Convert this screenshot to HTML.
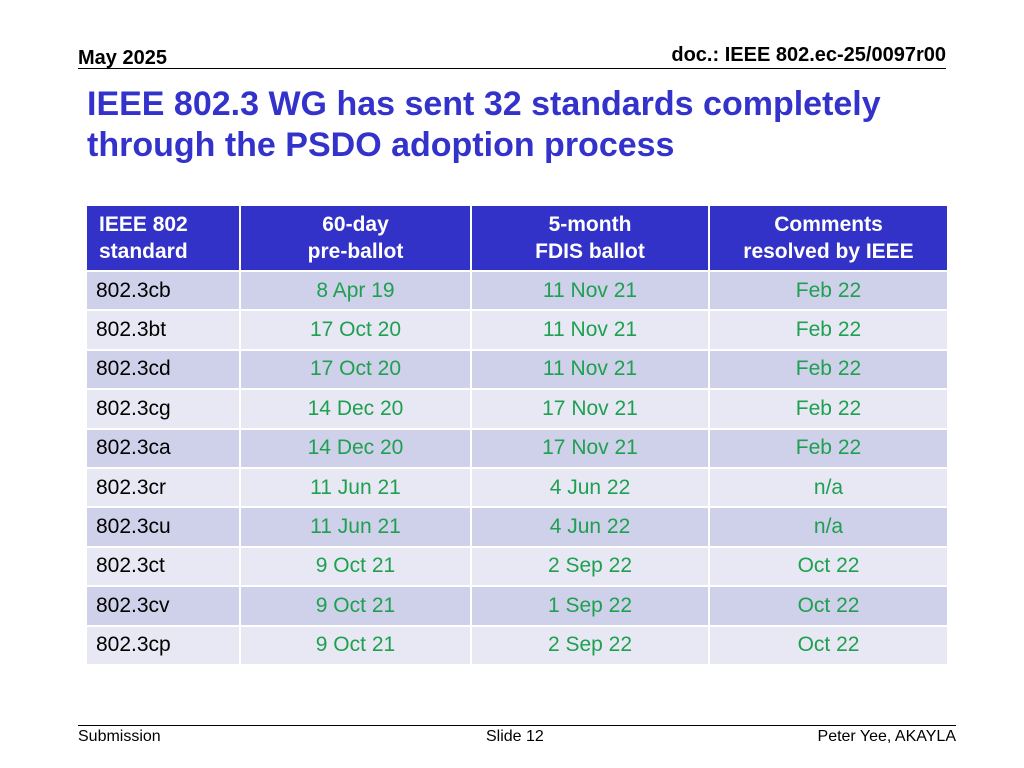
<!DOCTYPE html>
<html><head><meta charset="utf-8"><style>
body{margin:0;width:1024px;height:768px;background:#fff;font-family:"Liberation Sans",Arial,sans-serif;position:relative;overflow:hidden}
.a{position:absolute}
table{position:absolute;left:85px;top:204px;border-collapse:collapse;width:862px;table-layout:fixed}
td,th{border:2px solid #fff;padding:0;text-align:center;font-size:21px}
th{background:#3232c8;color:#fff;font-weight:bold;height:64px;line-height:27px}
td{height:37.4px;color:#1ea050}
td:first-child{color:#000;text-align:left;padding-left:9px}
tr.o td{background:#cfd0ea} tr.e td{background:#e8e8f4}
</style></head><body>
<div class="a" style="left:78px;top:47px;font-size:20px;font-weight:bold">May 2025</div>
<div class="a" style="right:78px;top:44px;font-size:20px;font-weight:bold">doc.: IEEE 802.ec-25/0097r00</div>
<div class="a" style="left:78px;top:68px;width:868px;height:1px;background:#000"></div>
<div class="a" style="left:87px;top:84px;font-size:34px;font-weight:bold;color:#3333cc;line-height:41px">IEEE 802.3 WG has sent 32 standards completely<br>through the PSDO adoption process</div>
<table>
<colgroup><col style="width:154px"><col style="width:231px"><col style="width:238px"><col style="width:239px"></colgroup>
<tr><th style="text-align:left;padding-left:12px">IEEE 802<br>standard</th><th>60-day<br>pre-ballot</th><th>5-month<br>FDIS ballot</th><th>Comments<br>resolved by IEEE</th></tr>
<tr class="o"><td>802.3cb</td><td>8 Apr 19</td><td>11 Nov 21</td><td>Feb 22</td></tr>
<tr class="e"><td>802.3bt</td><td>17 Oct 20</td><td>11 Nov 21</td><td>Feb 22</td></tr>
<tr class="o"><td>802.3cd</td><td>17 Oct 20</td><td>11 Nov 21</td><td>Feb 22</td></tr>
<tr class="e"><td>802.3cg</td><td>14 Dec 20</td><td>17 Nov 21</td><td>Feb 22</td></tr>
<tr class="o"><td>802.3ca</td><td>14 Dec 20</td><td>17 Nov 21</td><td>Feb 22</td></tr>
<tr class="e"><td>802.3cr</td><td>11 Jun 21</td><td>4 Jun 22</td><td>n/a</td></tr>
<tr class="o"><td>802.3cu</td><td>11 Jun 21</td><td>4 Jun 22</td><td>n/a</td></tr>
<tr class="e"><td>802.3ct</td><td>9 Oct 21</td><td>2 Sep 22</td><td>Oct 22</td></tr>
<tr class="o"><td>802.3cv</td><td>9 Oct 21</td><td>1 Sep 22</td><td>Oct 22</td></tr>
<tr class="e"><td>802.3cp</td><td>9 Oct 21</td><td>2 Sep 22</td><td>Oct 22</td></tr>
</table>
<div class="a" style="left:78px;top:725px;width:878px;height:1px;background:#000"></div>
<div class="a" style="left:78px;top:728px;font-size:16px">Submission</div>
<div class="a" style="left:486px;top:728px;font-size:16px">Slide 12</div>
<div class="a" style="right:68px;top:728px;font-size:16px">Peter Yee, AKAYLA</div>
</body></html>
